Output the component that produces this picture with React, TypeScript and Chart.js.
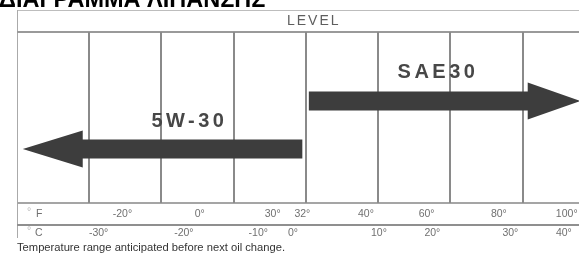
import { useEffect, useRef } from 'react';
import { Chart, registerables } from 'chart.js';
Chart.register(...registerables);

const title = 'ΔΙΑΓΡΑΜΜΑ ΛΙΠΑΝΣΗΣ';
const headerLabel = 'LEVEL';
const footnote = 'Temperature range anticipated before next oil change.';
const columnLines = [1, 2, 3, 4, 5, 6, 7];
const oilGrades = ['5W-30', 'SAE30'];
const arrowTail = [3.95, 4.04];
const arrowHeadBase = [0.91, 7.07];
const arrowTip = [0.08, 7.8];
const arrowLevel = [3.16, 5.96];
const gradeLabelX = [2.36, 5.8];
const gradeLabelY = [4.74, 7.66];
const fahrenheitLabels = ['-20°', '0°', '30°', '32°', '40°', '60°', '80°', '100°'];
const fahrenheitPos = [1.46, 2.53, 3.54, 3.95, 4.83, 5.67, 6.67, 7.61];
const celsiusLabels = ['-30°', '-20°', '-10°', '0°', '10°', '20°', '30°', '40°'];
const celsiusPos = [1.13, 2.31, 3.34, 3.82, 5.01, 5.75, 6.83, 7.57];

const FONT = '"Liberation Sans", Arial, sans-serif';

const diagramPlugin = {
  id: 'diagram',
  beforeDatasetsDraw(chart: any) {
    const { ctx, chartArea: a, scales } = chart;
    const xs = scales.x;
    const right = chart.width;
    ctx.save();
    // title (cropped at top)
    ctx.font = `bold 23.5px ${FONT}`;
    ctx.fillStyle = '#000';
    ctx.textAlign = 'left';
    ctx.textBaseline = 'alphabetic';
    ctx.fillText(title, -1, 7);

    // frame
    ctx.strokeStyle = '#bdbdbd';
    ctx.lineWidth = 1;
    ctx.beginPath();
    ctx.moveTo(a.left, 10.5);
    ctx.lineTo(right, 10.5);
    ctx.stroke();
    ctx.strokeStyle = '#aaaaaa';
    ctx.beginPath();
    ctx.moveTo(a.left + 0.5, 10);
    ctx.lineTo(a.left + 0.5, 238);
    ctx.stroke();

    ctx.lineWidth = 2;
    ctx.strokeStyle = '#9a9a9a';
    ctx.beginPath();
    ctx.moveTo(a.left, a.top);
    ctx.lineTo(right, a.top);
    ctx.stroke();
    ctx.strokeStyle = '#a5a5a5';
    ctx.beginPath();
    ctx.moveTo(a.left, a.bottom);
    ctx.lineTo(right, a.bottom);
    ctx.stroke();
    ctx.strokeStyle = '#8f8f8f';
    ctx.beginPath();
    ctx.moveTo(a.left, a.bottom + 22);
    ctx.lineTo(right, a.bottom + 22);
    ctx.stroke();

    // column lines
    ctx.strokeStyle = '#8a8a8a';
    ctx.lineWidth = 2;
    columnLines.forEach((v) => {
      const px = Math.round(xs.getPixelForValue(v));
      ctx.beginPath();
      ctx.moveTo(px, a.top);
      ctx.lineTo(px, a.bottom);
      ctx.stroke();
    });

    // header
    ctx.font = `14px ${FONT}`;
    (ctx as any).letterSpacing = '2px';
    ctx.fillStyle = '#5e5e5e';
    ctx.textAlign = 'left';
    ctx.textBaseline = 'middle';
    ctx.fillText(headerLabel, 287, 21);
    (ctx as any).letterSpacing = '0px';

    // unit rows
    ctx.font = `10.5px ${FONT}`;
    ctx.fillStyle = '#bbb';
    ctx.fillText('°', 27, 212);
    ctx.fillText('°', 27, 231);
    ctx.fillStyle = '#707070';
    ctx.fillText('F', 36, 214);
    ctx.fillText('C', 35, 233);
    ctx.textAlign = 'center';
    fahrenheitLabels.forEach((t, i) => {
      ctx.fillText(t, xs.getPixelForValue(fahrenheitPos[i]), 214);
    });
    celsiusLabels.forEach((t, i) => {
      ctx.fillText(t, xs.getPixelForValue(celsiusPos[i]), 233);
    });

    // footnote
    ctx.font = `11.2px ${FONT}`;
    ctx.fillStyle = '#333';
    ctx.textAlign = 'left';
    ctx.fillText(footnote, a.left, 248);
    ctx.restore();
  },
  afterDatasetsDraw(chart: any) {
    const { ctx, scales } = chart;
    ctx.save();
    oilGrades.forEach((label, i) => {
      const pts = chart.getDatasetMeta(i).data;
      const tail = pts[0], base = pts[1], tip = pts[2];
      const yc = tail.y;
      const shaft = 9.5;
      const head = 18.5;
      ctx.fillStyle = '#3d3d3d';
      ctx.beginPath();
      ctx.moveTo(tail.x, yc - shaft);
      ctx.lineTo(base.x, yc - shaft);
      ctx.lineTo(base.x, yc - head);
      ctx.lineTo(tip.x, yc);
      ctx.lineTo(base.x, yc + head);
      ctx.lineTo(base.x, yc + shaft);
      ctx.lineTo(tail.x, yc + shaft);
      ctx.closePath();
      ctx.fill();

      ctx.font = `bold 20px ${FONT}`;
      (ctx as any).letterSpacing = '3.5px';
      ctx.fillStyle = '#474747';
      ctx.textAlign = 'center';
      ctx.textBaseline = 'middle';
      ctx.fillText(label, scales.x.getPixelForValue(gradeLabelX[i]) + 2, scales.y.getPixelForValue(gradeLabelY[i]));
    });
    ctx.restore();
  },
};

export default function App() {
  const ref = useRef<HTMLCanvasElement>(null);
  useEffect(() => {
    if (!ref.current) return;
    const chart = new Chart(ref.current, {
      type: 'scatter',
      data: {
        datasets: oilGrades.map((g, i) => ({
          label: g,
          data: [
            { x: arrowTail[i], y: arrowLevel[i] },
            { x: arrowHeadBase[i], y: arrowLevel[i] },
            { x: arrowTip[i], y: arrowLevel[i] },
          ],
          pointRadius: 0,
          showLine: false,
        })),
      },
      options: {
        responsive: false,
        animation: false,
        layout: { padding: { left: 17, top: 32, right: 0, bottom: 52 } },
        scales: {
          x: { type: 'linear', min: 0, max: 7.78, display: false },
          y: { type: 'linear', min: 0, max: 10, display: false },
        },
        plugins: { legend: { display: false }, tooltip: { enabled: false } },
      },
      plugins: [diagramPlugin],
    });
    return () => chart.destroy();
  }, []);
  return (
    <div style={{ position: 'absolute', left: 0, top: 0, width: 579, height: 255, background: '#fff' }}>
      <canvas ref={ref} width={579} height={255} style={{ display: 'block' }} />
    </div>
  );
}
